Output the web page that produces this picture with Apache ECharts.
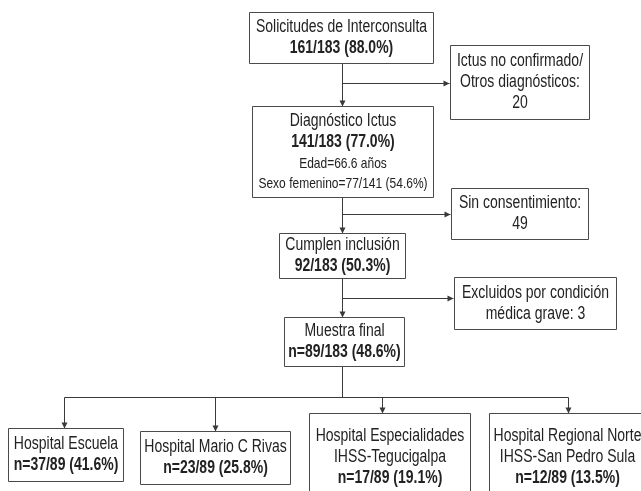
<!DOCTYPE html>
<html><head><meta charset="utf-8">
<script src="https://cdn.jsdelivr.net/npm/echarts@6/dist/echarts.min.js"></script>
<style>html,body{margin:0;padding:0;background:#fff}#c{width:641px;height:491px}</style>
</head><body><div id="c"></div>
<script>
// ---- data ----
const total = 183;
const stepNames = ['Solicitudes de Interconsulta', 'Diagnóstico Ictus', 'Cumplen inclusión', 'Muestra final'];
const stepN = [161, 141, 92, 89];
const stepPct = ['88.0', '77.0', '50.3', '48.6'];
const stepPrefix = ['', '', '', 'n='];
const edadMedia = '66.6';
const femN = 77, femTotal = 141, femPct = '54.6';
const exclNames = ['Ictus no confirmado/\nOtros diagnósticos:', 'Sin consentimiento:', 'Excluidos por condición\nmédica grave:'];
const exclN = [20, 49, 3];
const exclInline = [false, false, true];
const hospNames = ['Hospital Escuela', 'Hospital Mario C Rivas', 'Hospital Especialidades\nIHSS-Tegucigalpa', 'Hospital Regional Norte\nIHSS-San Pedro Sula'];
const hospN = [37, 23, 17, 12];
const hospPct = ['41.6', '25.8', '19.1', '13.5'];
const finalN = 89;

// ---- layout (pixel space of the canvas) ----
const stepBoxes = [[249,12,433,63],[252,106,433,197],[279,233,405,278],[284,317,404,366]];
const exclBoxes = [[450,45,589,119],[451,188,588,239],[454,277,616,329]];
const hospBoxes = [[8,428,123,481],[140,431,290,484],[309,413,470,501],[489,413,645,501]];
const edges = [
  {pts:[[342,63],[342,106]], arrow:true},
  {pts:[[342,83],[449,83]], arrow:true},
  {pts:[[342,197],[342,233]], arrow:true},
  {pts:[[342,214],[450,214]], arrow:true},
  {pts:[[342,278],[342,317]], arrow:true},
  {pts:[[342,298],[453,298]], arrow:true},
  {pts:[[342,366],[342,397]], arrow:false},
  {pts:[[64,397],[568,397]], arrow:false},
  {pts:[[64,397],[64,428]], arrow:true},
  {pts:[[215,397],[215,431]], arrow:true},
  {pts:[[382,397],[382,413]], arrow:true},
  {pts:[[568,397],[568,413]], arrow:true}
];

const FONT = "'Liberation Sans', Arial, sans-serif";
const NARROW = 0.8;
const rich = {
  n: {fontSize: 17.5, lineHeight: 21, fontFamily: FONT, color: '#222'},
  b: {fontSize: 17.5, lineHeight: 22, fontFamily: FONT, fontWeight: 'bold', color: '#222'},
  s: {fontSize: 15, lineHeight: 20, fontFamily: FONT, color: '#222'}
};

function lines(str, tag){ return str.split('\n').map(s => '{' + tag + '|' + s + '}').join('\n'); }

const boxes = [];
stepNames.forEach((nm, i) => {
  let t = lines(nm, 'n') + '\n{b|' + stepPrefix[i] + stepN[i] + '/' + total + ' (' + stepPct[i] + '%)}';
  if (i === 1) t += '\n{s|Edad=' + edadMedia + ' años}\n{s|Sexo femenino=' + femN + '/' + femTotal + ' (' + femPct + '%)}';
  boxes.push({box: stepBoxes[i], text: t});
});
exclNames.forEach((nm, i) => {
  const t = exclInline[i] ? lines(nm + ' ' + exclN[i], 'n') : lines(nm + '\n' + exclN[i], 'n');
  boxes.push({box: exclBoxes[i], text: t});
});
hospNames.forEach((nm, i) => {
  boxes.push({box: hospBoxes[i], text: lines(nm, 'n') + '\n{b|n=' + hospN[i] + '/' + finalN + ' (' + hospPct[i] + '%)}'});
});

const chart = echarts.init(document.getElementById('c'), null, {renderer: 'canvas'});
chart.setOption({
  animation: false,
  backgroundColor: '#fff',
  grid: {left: 0, right: 0, top: 0, bottom: 0},
  xAxis: {type: 'value', min: 0, max: 641, show: false},
  yAxis: {type: 'value', min: 0, max: 491, inverse: true, show: false},
  series: [
    {
      type: 'custom', coordinateSystem: 'cartesian2d', clip: false,
      data: edges.map((e, i) => [i]),
      renderItem: function(params, api){
        const e = edges[api.value(0)];
        const pts = e.pts.map(p => api.coord(p));
        const ch = [{type: 'polyline', shape: {points: pts.map(p => [Math.round(p[0]) + 0.5, Math.round(p[1]) + 0.5])}, style: {stroke: '#3a3a3a', lineWidth: 1, fill: null}}];
        if (e.arrow) {
          const a = pts[pts.length - 2], b = pts[pts.length - 1];
          const ang = Math.atan2(b[1] - a[1], b[0] - a[0]);
          const L = 6, W = 3;
          const bx = Math.round(b[0]) + 0.5, by = Math.round(b[1]) + 0.5;
          const cx = bx - L * Math.cos(ang), cy = by - L * Math.sin(ang);
          ch.push({type: 'polygon', shape: {points: [[bx, by], [cx - W * Math.sin(ang), cy + W * Math.cos(ang)], [cx + W * Math.sin(ang), cy - W * Math.cos(ang)]]}, style: {fill: '#3a3a3a'}});
        }
        return {type: 'group', children: ch};
      }
    },
    {
      type: 'custom', coordinateSystem: 'cartesian2d', clip: false,
      data: boxes.map((b, i) => [i]),
      renderItem: function(params, api){
        const bx = boxes[api.value(0)];
        const p1 = api.coord([bx.box[0], bx.box[1]]);
        const p2 = api.coord([bx.box[2], bx.box[3]]);
        const x = Math.round(p1[0]) + 0.5, y = Math.round(p1[1]) + 0.5;
        const w = Math.round(p2[0] - p1[0]), h = Math.round(p2[1] - p1[1]);
        return {type: 'group', children: [
          {type: 'rect', shape: {x: x, y: y, width: w, height: h}, style: {fill: '#fff', stroke: '#4a4a4a', lineWidth: 1}},
          {type: 'text', x: x + w / 2, y: y + h / 2, scaleX: NARROW, scaleY: 1,
           style: {text: bx.text, rich: rich, align: 'center', verticalAlign: 'middle', fill: '#222'}}
        ]};
      }
    }
  ]
});
</script></body></html>
